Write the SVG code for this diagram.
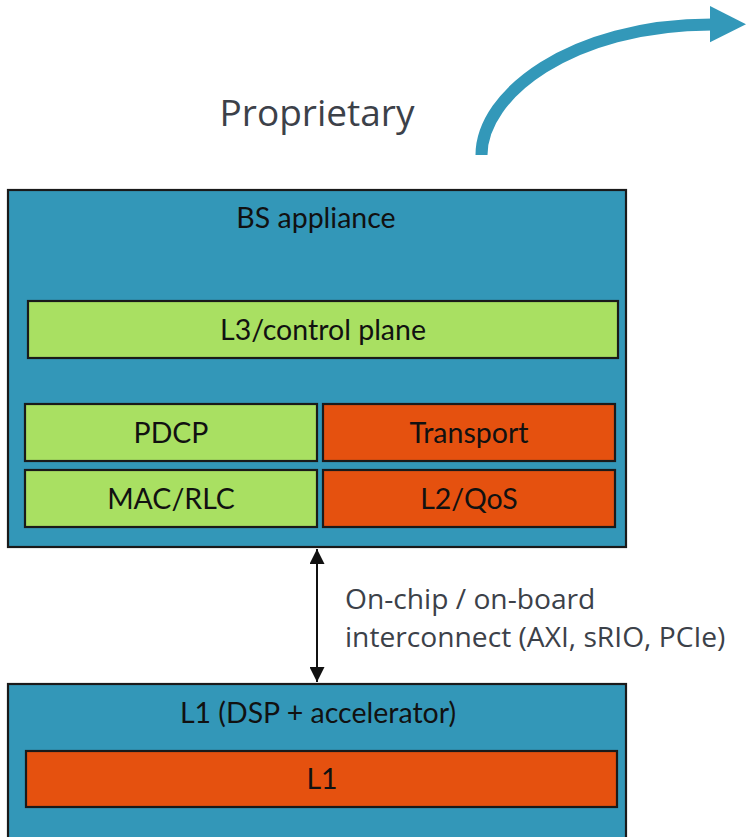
<svg xmlns="http://www.w3.org/2000/svg" width="746" height="837" viewBox="0 0 746 837">
  <style>
    .outer { fill: #3397b8; stroke: #1a1a1a; stroke-width: 2.2; }
    .green { fill: #a9e062; stroke: #1a1a1a; stroke-width: 2.2; }
    .orange { fill: #e5510f; stroke: #1a1a1a; stroke-width: 2.2; }
    .lbl { font-family: Lato, "Liberation Sans", sans-serif; font-size: 28.5px; fill: #111; text-anchor: middle; }
    .note { font-family: "Open Sans", "Noto Sans", sans-serif; fill: #3c4149; }
    .link { stroke: #111; stroke-width: 2; fill: none; }
  </style>
  <defs>
    <marker id="head" viewBox="0 0 10 10" refX="10" refY="5" markerWidth="7.5" markerHeight="7.5" markerUnits="strokeWidth" orient="auto-start-reverse">
      <path d="M0,0 L10,5 L0,10 z" fill="#111"/>
    </marker>
  </defs>

  <!-- curved trend arrow -->
  <g id="trend-arrow">
    <path d="M481.5,155 C481.5,95 570,24.5 712,24.5" fill="none" stroke="#3398b9" stroke-width="12"/>
    <polygon points="710,6 746,24.3 710,42.3" fill="#3398b9"/>
  </g>

  <g id="proprietary-label">
    <text class="note" x="317" y="126" font-size="37" text-anchor="middle">Proprietary</text>
  </g>

  <!-- base station appliance -->
  <g id="bs-appliance">
    <rect class="outer" x="8" y="190" width="618" height="357"/>
    <text class="lbl" x="316" y="228">BS appliance</text>
  </g>
  <g id="l3-control">
    <rect class="green" x="28" y="301" width="590" height="57"/>
    <text class="lbl" x="323" y="340">L3/control plane</text>
  </g>
  <g id="pdcp">
    <rect class="green" x="25" y="404" width="292" height="57"/>
    <text class="lbl" x="171" y="443">PDCP</text>
  </g>
  <g id="transport">
    <rect class="orange" x="323" y="404" width="292" height="57"/>
    <text class="lbl" x="469" y="443">Transport</text>
  </g>
  <g id="mac-rlc">
    <rect class="green" x="25" y="470" width="292" height="57"/>
    <text class="lbl" x="171" y="509">MAC/RLC</text>
  </g>
  <g id="l2-qos">
    <rect class="orange" x="323" y="470" width="292" height="57"/>
    <text class="lbl" x="469" y="509">L2/QoS</text>
  </g>

  <!-- physical layer unit -->
  <g id="l1-unit">
    <rect class="outer" x="8" y="684" width="618" height="170"/>
    <text class="lbl" x="318" y="723">L1 (DSP + accelerator)</text>
  </g>
  <g id="l1">
    <rect class="orange" x="26" y="751" width="591" height="56"/>
    <text class="lbl" x="322" y="789">L1</text>
  </g>

  <!-- interconnect -->
  <g id="connectors">
    <line class="link" x1="317" y1="549" x2="317" y2="682" marker-start="url(#head)" marker-end="url(#head)"/>
  </g>
  <g id="interconnect-label">
    <text class="note" font-size="28.2" x="345" y="609">On-chip / on-board</text>
    <text class="note" font-size="28.2" x="345" y="647">interconnect (AXI, sRIO, PCIe)</text>
  </g>
</svg>
